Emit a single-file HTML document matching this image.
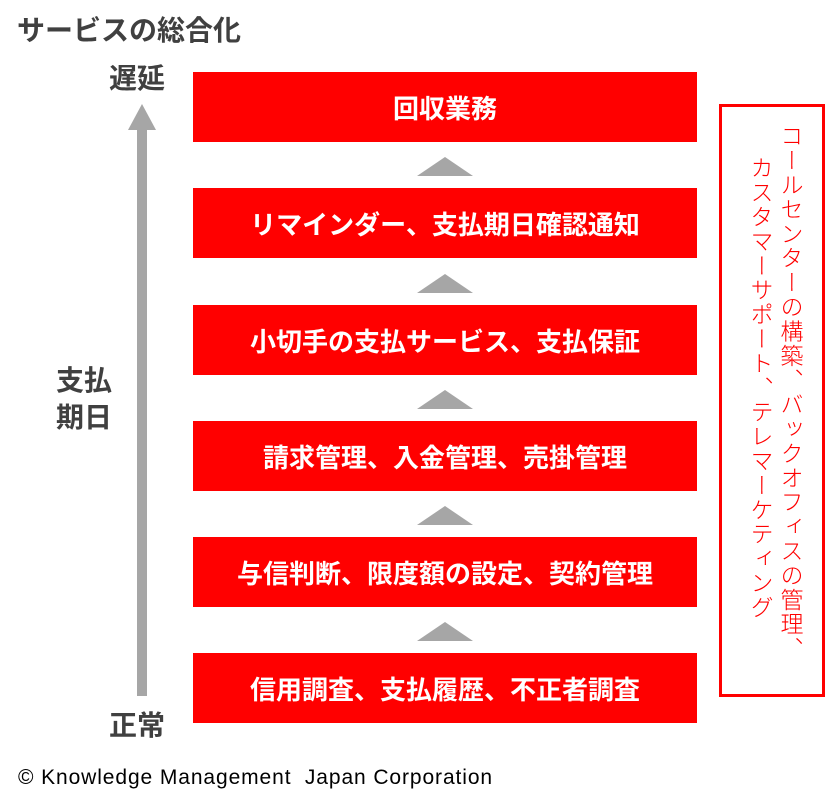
<!DOCTYPE html>
<html><head><meta charset="utf-8"><style>
body{margin:0;width:826px;height:808px;background:#fff;position:relative;font-family:"Liberation Sans","Noto Sans CJK JP",sans-serif;overflow:hidden}
.a{position:absolute}
.t{color:#404040;font-weight:bold}
.box{position:absolute;left:193px;width:504px;height:70px;background:#ff0000;color:#fff;font-weight:bold;font-size:26px;display:flex;align-items:center;justify-content:center}
.tri{position:absolute;left:417px;width:0;height:0;border-left:28px solid transparent;border-right:28px solid transparent;border-bottom:19px solid #a6a6a6}
.v{position:absolute;writing-mode:vertical-rl;color:#ff0000;font-size:23px;line-height:1;white-space:nowrap;letter-spacing:1.4px;font-weight:300}
</style></head><body>
<div class="a t" style="left:17px;top:9px;font-size:28px">サービスの総合化</div>
<div class="a t" style="left:109px;top:57px;font-size:28px">遅延</div>
<div class="a t" style="left:56px;top:362px;font-size:28px;line-height:37px">支払<br>期日</div>
<div class="a t" style="left:109px;top:704px;font-size:28px">正常</div>
<div class="a" style="left:128px;top:104px;width:0;height:0;border-left:14px solid transparent;border-right:14px solid transparent;border-bottom:26px solid #a6a6a6"></div>
<div class="a" style="left:137px;top:129px;width:10px;height:567px;background:#a6a6a6"></div>
<div class="box" style="top:72px">回収業務</div>
<div class="tri" style="top:157px"></div>
<div class="box" style="top:188px">リマインダー、支払期日確認通知</div>
<div class="tri" style="top:274px"></div>
<div class="box" style="top:305px">小切手の支払サービス、支払保証</div>
<div class="tri" style="top:390px"></div>
<div class="box" style="top:421px">請求管理、入金管理、売掛管理</div>
<div class="tri" style="top:506px"></div>
<div class="box" style="top:537px">与信判断、限度額の設定、契約管理</div>
<div class="tri" style="top:622px"></div>
<div class="box" style="top:653px">信用調査、支払履歴、不正者調査</div>
<div class="a" style="left:719px;top:104px;width:100px;height:587px;border:3px solid #ff0000"></div>
<div class="v" style="left:778px;top:124px">コールセンターの構築、バックオフィスの管理、</div>
<div class="v" style="left:748px;top:156px">カスタマーサポート、テレマーケティング</div>
<div class="a" style="left:18px;top:766px;font-size:21px;letter-spacing:0.9px;color:#000;white-space:pre">© Knowledge Management  Japan Corporation</div>
</body></html>
